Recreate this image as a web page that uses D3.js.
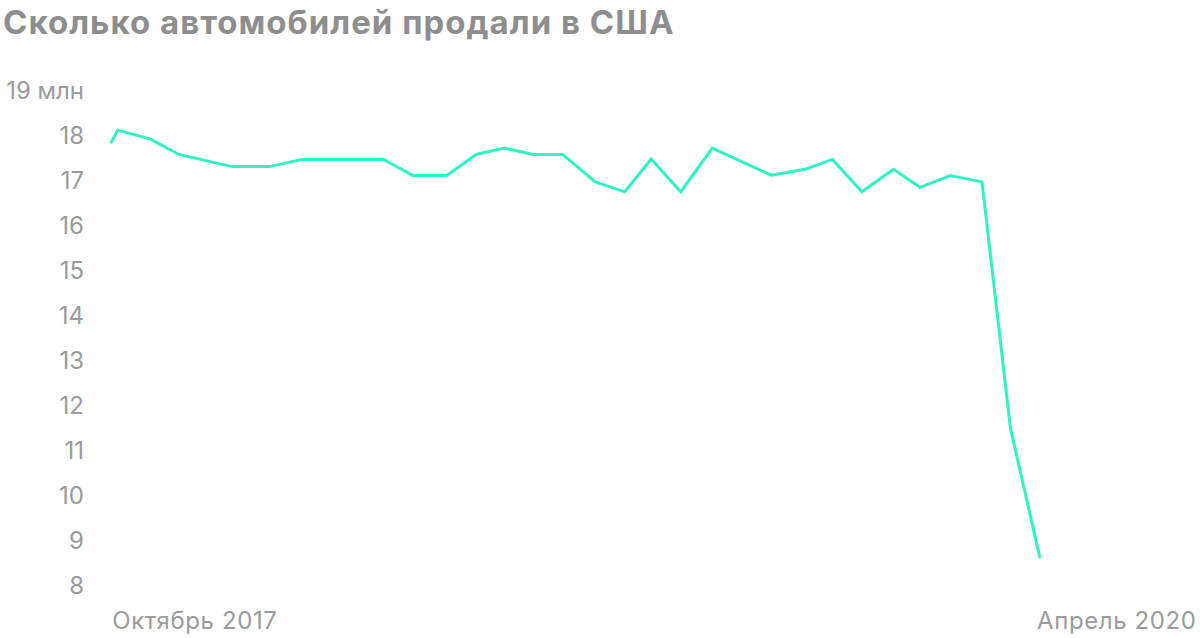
<!DOCTYPE html>
<html>
<head>
<meta charset="utf-8">
<script src="https://cdn.jsdelivr.net/npm/d3@7"></script>
<style>
  html, body { margin: 0; padding: 0; background: #fff; }
  svg { display: block; }
</style>
</head>
<body>
<svg id="chart" width="1200" height="638"></svg>
<script>
// ---- data ----
const title = "Сколько автомобилей продали в США";
const dates = [
  "2017-10-01","2017-10-08","2017-11-09","2017-12-07","2018-01-28","2018-03-06",
  "2018-04-07","2018-06-26","2018-07-25","2018-08-27","2018-09-25","2018-10-23",
  "2018-11-20","2018-12-19","2019-01-20","2019-02-18","2019-03-16","2019-04-14",
  "2019-05-15","2019-07-12","2019-08-14","2019-09-10","2019-10-09","2019-11-09",
  "2019-12-05","2020-01-04","2020-02-04","2020-03-03","2020-04-01"
];
const sales = [
  17.84, 18.13, 17.93, 17.59, 17.32, 17.32,
  17.48, 17.48, 17.12, 17.12, 17.59, 17.73,
  17.59, 17.59, 16.98, 16.76, 17.49, 16.76,
  17.73, 17.13, 17.26, 17.48, 16.76, 17.26,
  16.86, 17.12, 16.98, 11.50, 8.62
];
const yTicks = [8, 9, 10, 11, 12, 13, 14, 15, 16, 17, 18, 19];
const yUnit = " млн";
const xLabels = ["Октябрь 2017", "Апрель 2020"];
const xDomain = ["2017-10-01", "2020-04-01"];

// ---- chart ----
const svg = d3.select("#chart");
const parse = d3.utcParse("%Y-%m-%d");
const data = dates.map((d, i) => ({ date: parse(d), value: sales[i] }));

const x = d3.scaleUtc().domain(xDomain.map(parse)).range([110.7, 1040]);
const y = d3.scaleLinear().domain([8, 19]).range([586, 91]);

const labelColor = "#9b9b9b";
const fontFamily = "Inter, 'Open Sans', sans-serif";

svg.append("text")
  .attr("x", 3).attr("y", 34)
  .attr("font-family", "Inter, 'Liberation Sans', sans-serif")
  .attr("font-weight", "bold")
  .attr("font-size", 33)
  .attr("letter-spacing", 1)
  .attr("fill", "#8e8e8e")
  .text(title);

const yAxis = d3.axisLeft(y)
  .tickValues(yTicks)
  .tickSize(0)
  .tickPadding(0)
  .tickFormat(d => d === 19 ? d + yUnit : d);

const gy = svg.append("g").attr("transform", "translate(84,0)").call(yAxis);
gy.select(".domain").remove();
gy.selectAll("text")
  .attr("font-family", fontFamily)
  .attr("font-size", 24)
  .attr("fill", labelColor);

const xAxis = d3.axisBottom(x)
  .tickValues(xDomain.map(parse))
  .tickSize(0)
  .tickPadding(0)
  .tickFormat((d, i) => xLabels[i]);

const gx = svg.append("g").attr("transform", "translate(0,612)").call(xAxis);
gx.select(".domain").remove();
gx.selectAll("text")
  .attr("font-family", fontFamily)
  .attr("font-size", 24)
  .attr("letter-spacing", 0.6)
  .attr("fill", labelColor)
  .attr("text-anchor", (d, i) => i === 0 ? "start" : "end")
  .attr("dx", (d, i) => i === 0 ? 1 : 156)
  .attr("dy", "0.69em");

const line = d3.line().x(d => x(d.date)).y(d => y(d.value));
svg.append("path")
  .datum(data)
  .attr("fill", "none")
  .attr("stroke", "#2ff3c3")
  .attr("stroke-width", 3)
  .attr("stroke-linejoin", "miter")
  .attr("d", line);
</script>
</body>
</html>
